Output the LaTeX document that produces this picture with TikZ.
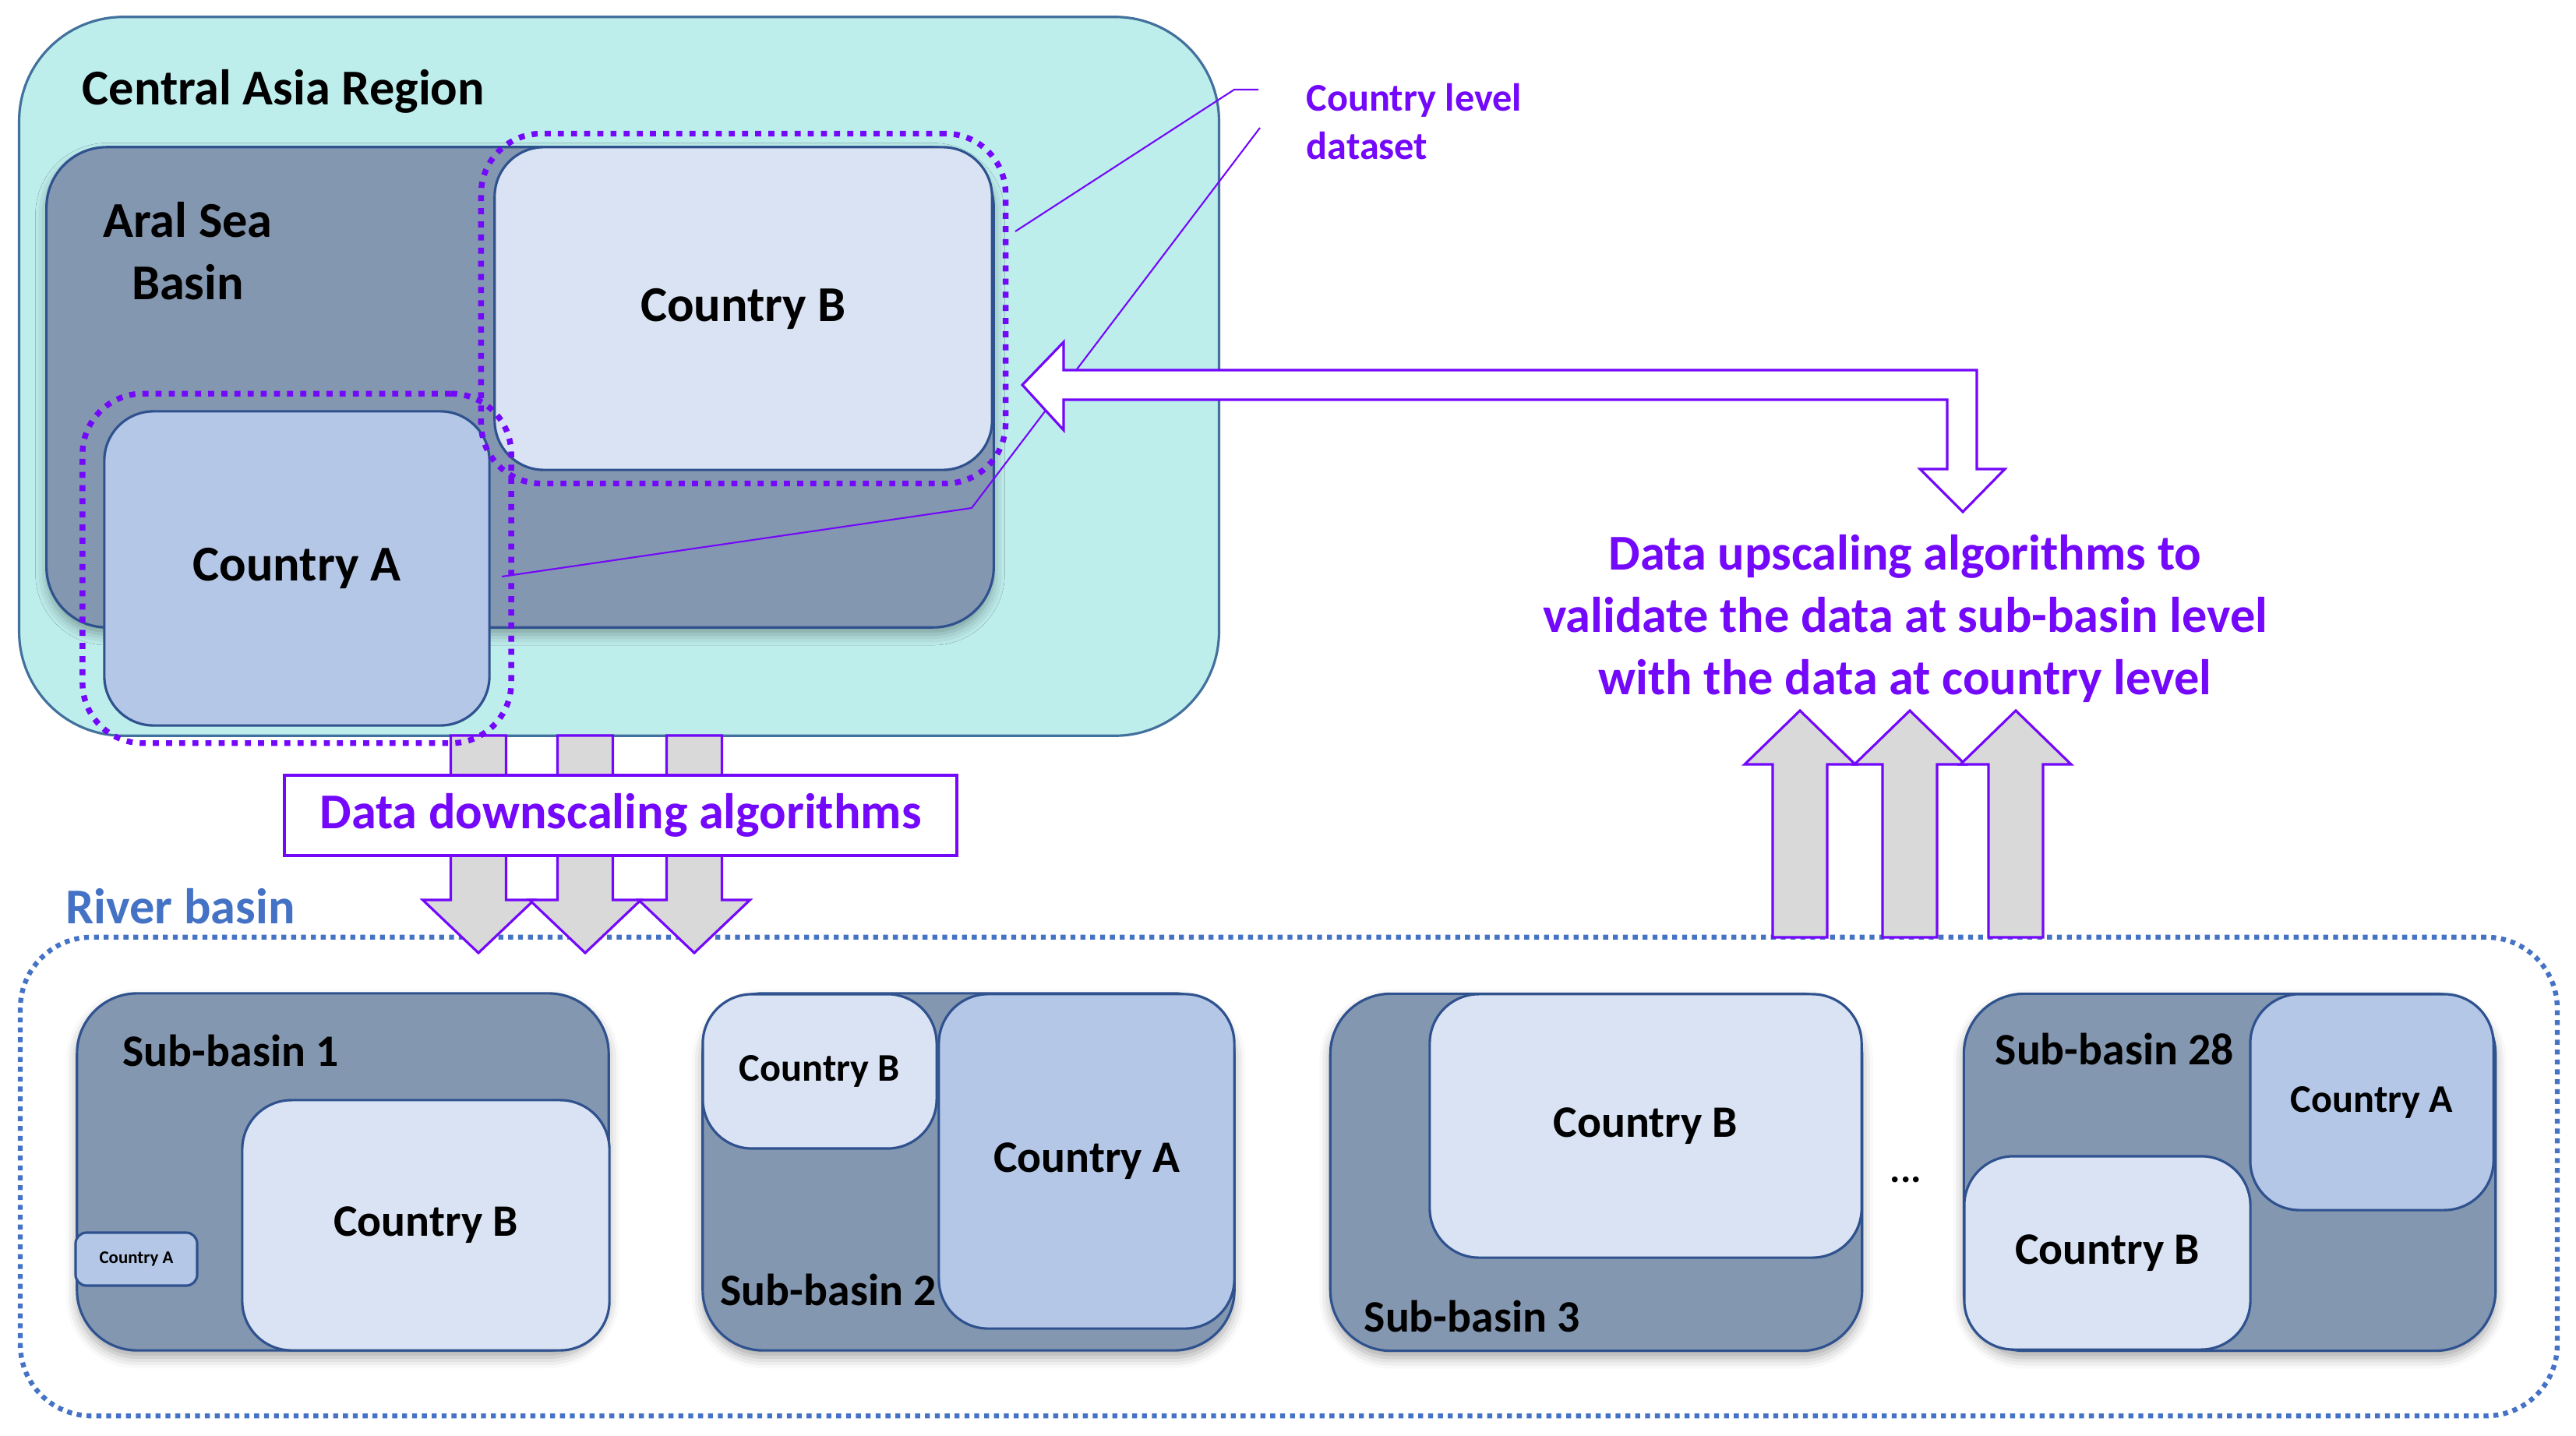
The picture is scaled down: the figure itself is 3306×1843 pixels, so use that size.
\documentclass[tikz,border=0pt]{standalone}
\usepackage{fontspec}
\setmainfont{Carlito}
\usepackage{tikz}
\usetikzlibrary{shapes,arrows,positioning,fit,calc,shadows.blur}

\definecolor{regioncyan}{RGB}{190,238,236}
\definecolor{regionedge}{RGB}{65,113,156}
\definecolor{edgeblue}{RGB}{47,82,143}
\definecolor{basingrey}{RGB}{132,151,176}
\definecolor{ctryAblue}{RGB}{180,199,231}
\definecolor{ctryBblue}{RGB}{218,227,243}
\definecolor{violetline}{RGB}{115,8,250}
\definecolor{riverblue}{RGB}{68,114,196}
\definecolor{arrowgrey}{RGB}{217,217,217}

\begin{document}
\begin{tikzpicture}[
    x=0.01cm, y=-0.01cm,
    bigfont/.style={font=\fontsize{18.3}{22.8}\selectfont\bfseries},
    midfont/.style={font=\fontsize{16.4}{19.5}\selectfont\bfseries},
    smallfont/.style={font=\fontsize{14.3}{17.6}\selectfont\bfseries},
    titletext/.style={anchor=west, inner sep=0pt},
    box/.style={rectangle, draw=edgeblue, line width=0.9pt, rounded corners=18pt, inner sep=0pt},
    region/.style={box, fill=regioncyan, draw=regionedge, rounded corners=38pt, minimum width=15.39cm, minimum height=9.22cm},
    basin/.style={box, fill=basingrey, rounded corners=22pt, blur shadow={shadow xshift=0pt, shadow yshift=-2.5pt, shadow blur radius=4pt, shadow opacity=35}},
    subbasin/.style={basin, minimum width=6.82cm, minimum height=4.58cm},
    ctryA/.style={box, fill=ctryAblue},
    ctryB/.style={box, fill=ctryBblue},
    outline/.style={draw=violetline, line width=2.1pt, dash pattern=on 2.2pt off 2.6pt, rounded corners=22pt},
    riverbox/.style={draw=riverblue, line width=1.8pt, dash pattern=on 1.8pt off 1.8pt, rounded corners=26pt, minimum width=32.54cm, minimum height=6.14cm},
    algobox/.style={rectangle, draw=violetline, line width=1.1pt, fill=white, text=violetline, bigfont, minimum width=8.63cm, minimum height=1.03cm},
    callout/.style={draw=violetline, line width=0.6pt},
    hollowarrow/.style={draw=violetline, line width=0.9pt, fill=white},
    blockarrow/.style={draw=violetline, line width=0.9pt, fill=arrowgrey},
    blockdown/.pic={\draw[blockarrow] (-35.5,0) -- (35.5,0) -- (35.5,211) -- (71.5,211) -- (0,279) -- (-71.5,211) -- (-35.5,211) -- cycle;},
    blockup/.pic={\draw[blockarrow] (-35,0) -- (35,0) -- (35,-222) -- (71,-222) -- (0,-291) -- (-71,-222) -- (-35,-222) -- cycle;}
]
\useasboundingbox (0,0) rectangle (3306,1843);

% --- Region level ---

% Central Asia
\node[region] (asia) at (794.5,483) {};
\node[bigfont, titletext] (asiatitle) at (105,117) {Central Asia Region};

% Aral Sea Basin
\node[basin, minimum width=12.15cm, minimum height=6.16cm] (aral) at (667.5,497) {};
\node[bigfont, align=center] (araltitle) at (241,322) {Aral Sea\\Basin};

% Countries
\node[ctryB, bigfont, minimum width=6.38cm, minimum height=4.14cm] (topB) at (954,396) {Country B};
\node[ctryA, bigfont, minimum width=4.94cm, minimum height=4.03cm] (topA) at (381,729.5) {Country A};

% River basin frame
\node[riverbox] (river) at (1654,1510) {};
\node[bigfont, text=riverblue, titletext] (rivertitle) at (84,1163) {River basin};

% Downscaling
\pic at (614,944) {blockdown};
\pic at (751,944) {blockdown};
\pic at (891,944) {blockdown};
\node[algobox] (down) at (796.5,1046.5) {Data downscaling algorithms};

% Country level datasets
\node[outline, fit=(topB), inner sep=4.5pt] (dotB) {};
\node[outline, fit=(topA), inner xsep=7.5pt, inner ysep=6pt] (dotA) {};

\node[smallfont, text=violetline, align=left, titletext] (dataset) at (1676,156) {Country level\\dataset};
\coordinate (callA) at (1615,115);
\coordinate (callB) at (1617,164);
\coordinate (bendB) at (1584,115);
\coordinate (bendA) at (1247,652);
\coordinate (endB) at (1303,297);
\coordinate (endA) at (644,740);
\draw[callout] (callA) -- (bendB) -- (endB);
\draw[callout] (callB) -- (bendA) -- (endA);

% Upscaling
\draw[hollowarrow] (1312,494) -- (1365,439) -- (1365,475) -- (2537,475) -- (2537,602) -- (2573,602) -- (2519,657)
    -- (2464,602) -- (2499,602) -- (2499,513) -- (1365,513) -- (1365,552) -- cycle;
\node[bigfont, text=violetline, align=center] (up) at (2445,794) {Data upscaling algorithms to\\validate the data at sub-basin level\\with the data at country level};

% --- Sub-basins ---

% Sub-basin 1
\node[subbasin] (sb1) at (440,1504) {};
\node[midfont, titletext] (sb1title) at (157,1348) {Sub-basin 1};
\node[ctryB, midfont, minimum width=4.71cm, minimum height=3.21cm] (sb1B) at (546.5,1572.5) {Country B};
\node[ctryA, font=\fontsize{6.5}{8}\selectfont\bfseries, rounded corners=4pt, minimum width=1.56cm, minimum height=0.68cm] (sb1A) at (175,1616) {Country A};

% Sub-basin 2
\node[subbasin] (sb2) at (1243,1504) {};
\node[ctryB, smallfont, minimum width=3.00cm, minimum height=1.98cm] (sb2B) at (1052,1375) {Country B};
\node[ctryA, midfont, minimum width=3.79cm, minimum height=4.29cm] (sb2A) at (1394.5,1490.5) {Country A};
\node[midfont, titletext] (sb2title) at (924,1655) {Sub-basin 2};

% Sub-basin 3
\node[subbasin] (sb3) at (2048.5,1504.5) {};
\node[ctryB, midfont, minimum width=5.54cm, minimum height=3.38cm] (sb3B) at (2112,1445) {Country B};
\node[midfont, titletext] (sb3title) at (1750,1689) {Sub-basin 3};

\node[smallfont] (dots) at (2446,1514) {...};

% Sub-basin 28
\node[subbasin] (sb28) at (2861.5,1504.5) {};
\node[midfont, titletext] (sb28title) at (2560,1346) {Sub-basin 28};
\node[ctryA, smallfont, minimum width=3.12cm, minimum height=2.77cm] (sb28A) at (3044,1414.5) {Country A};
\node[ctryB, midfont, minimum width=3.67cm, minimum height=2.48cm] (sb28B) at (2704.5,1608) {Country B};

% Upscaling arrows
\pic at (2310,1203) {blockup};
\pic at (2451,1203) {blockup};
\pic at (2587,1203) {blockup};

\end{tikzpicture}
\end{document}
